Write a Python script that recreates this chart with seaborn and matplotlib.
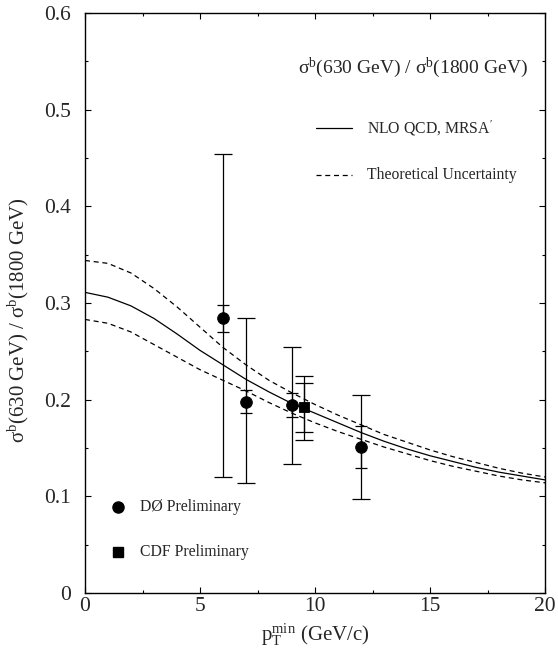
import numpy as np
import pandas as pd
import matplotlib
matplotlib.use("Agg")
import matplotlib.pyplot as plt
from matplotlib.ticker import MultipleLocator
import seaborn as sns

# ---- data ----
pt = [0, 1, 2, 3, 4, 5, 6, 7, 8, 9, 10, 11, 12, 13, 14, 15, 16, 17, 18, 19, 20]
nlo_central = [0.311, 0.306, 0.297, 0.284, 0.268, 0.251, 0.236, 0.221, 0.208, 0.196,
               0.186, 0.176, 0.166, 0.157, 0.149, 0.142, 0.136, 0.130, 0.125, 0.121, 0.117]
nlo_upper = [0.344, 0.341, 0.331, 0.315, 0.296, 0.275, 0.254, 0.236, 0.220, 0.207,
             0.195, 0.184, 0.174, 0.164, 0.156, 0.148, 0.141, 0.135, 0.129, 0.124, 0.120]
nlo_lower = [0.283, 0.279, 0.270, 0.257, 0.244, 0.231, 0.220, 0.209, 0.197, 0.186,
             0.176, 0.167, 0.159, 0.151, 0.144, 0.137, 0.131, 0.126, 0.121, 0.117, 0.114]

d0_x = [6, 7, 9, 12]
d0_y = [0.284, 0.198, 0.195, 0.151]
d0_stat_lo = [0.270, 0.186, 0.182, 0.129]
d0_stat_hi = [0.298, 0.210, 0.2065, 0.173]
d0_tot_lo = [0.120, 0.1135, 0.133, 0.097]
d0_tot_hi = [0.454, 0.284, 0.255, 0.205]

cdf_x = [9.5]
cdf_y = [0.192]
cdf_stat_lo = [0.167]
cdf_stat_hi = [0.217]
cdf_tot_lo = [0.158]
cdf_tot_hi = [0.225]

# ---- style ----
sns.set_theme(style="ticks")
plt.rcParams["font.family"] = ["Liberation Serif", "DejaVu Serif"]
plt.rcParams["mathtext.fontset"] = "custom"
plt.rcParams["mathtext.rm"] = "Liberation Serif"
plt.rcParams["mathtext.it"] = "Liberation Serif:italic"
plt.rcParams["mathtext.bf"] = "Liberation Serif:bold"

fig = plt.figure(figsize=(5.58, 6.6), dpi=100)
ax = fig.add_axes([85/558, 1-593/660, 460/558, 580/660])

df = pd.DataFrame({"pt": pt, "c": nlo_central, "u": nlo_upper, "l": nlo_lower})
sns.lineplot(data=df, x="pt", y="c", ax=ax, color="black", lw=0.9)
sns.lineplot(data=df, x="pt", y="u", ax=ax, color="black", lw=0.9, linestyle=(0, (4, 3)))
sns.lineplot(data=df, x="pt", y="l", ax=ax, color="black", lw=0.9, linestyle=(0, (4, 3)))

def draw_err(xs, ys, lo, hi, cap):
    ys = np.array(ys); lo = np.array(lo); hi = np.array(hi)
    ax.errorbar(xs, ys, yerr=[ys - lo, hi - ys], fmt="none", ecolor="black",
                elinewidth=0.9, capsize=cap, capthick=0.9)

draw_err(d0_x, d0_y, d0_tot_lo, d0_tot_hi, 6.5)
draw_err(d0_x, d0_y, d0_stat_lo, d0_stat_hi, 4)
draw_err(cdf_x, cdf_y, cdf_tot_lo, cdf_tot_hi, 6.5)
draw_err(cdf_x, cdf_y, cdf_stat_lo, cdf_stat_hi, 6.5)

sns.scatterplot(x=d0_x, y=d0_y, ax=ax, marker="o", s=70, color="black",
                edgecolor="black", zorder=5)
sns.scatterplot(x=cdf_x, y=cdf_y, ax=ax, marker="s", s=60, color="black",
                edgecolor="black", zorder=5)

ax.set_xlim(0, 20)
ax.set_ylim(0, 0.6)
ax.xaxis.set_minor_locator(MultipleLocator(2.5))
ax.yaxis.set_minor_locator(MultipleLocator(0.05))
ax.set_xticks([0, 5, 10, 15, 20])
ax.set_xticklabels(["0", "5", "10", "15", "20"])
ax.set_yticks([0, 0.1, 0.2, 0.3, 0.4, 0.5, 0.6])
ax.set_yticklabels(["0", "0.1", "0.2", "0.3", "0.4", "0.5", "0.6"])
ax.tick_params(which="both", direction="in", top=True, right=True, color="black")
ax.tick_params(which="major", length=4, width=0.8, labelsize=15.5)
ax.tick_params(axis="x", which="major", pad=3)
ax.tick_params(axis="y", which="major", pad=10)
ax.tick_params(which="minor", length=2, width=0.8)
for sp in ax.spines.values():
    sp.set_color("black")
    sp.set_linewidth(1.0)

ax.set_xlabel(r"$\mathrm{p_T^{min}}$ (GeV/c)", fontsize=15)
ax.set_ylabel(r"$\mathrm{\sigma^b}$(630 GeV) / $\mathrm{\sigma^b}$(1800 GeV)", fontsize=15)
ax.xaxis.set_label_coords((315 - 85) / 460, (593 - 621) / 580)
ax.yaxis.set_label_coords((31 - 85) / 460, (593 - 320) / 580)

# in-plot title
ax.text((413 - 85) / 460, (593 - 68) / 580,
        r"$\mathrm{\sigma^b}$(630 GeV) / $\mathrm{\sigma^b}$(1800 GeV)",
        transform=ax.transAxes, ha="center", va="center", fontsize=14)

# theory legend (axes coords)
def px(x): return (x - 85) / 460
def py(y): return (593 - y) / 580
ax.plot([px(316), px(352)], [py(128), py(128)], transform=ax.transAxes, color="black", lw=0.9)
ax.text(px(367), py(128), r"NLO QCD, MRSA$^{\prime}$", transform=ax.transAxes,
        ha="left", va="center", fontsize=11.3)
ax.plot([px(316), px(352)], [py(175), py(175)], transform=ax.transAxes, color="black",
        lw=0.9, linestyle=(0, (4, 3)))
ax.text(px(367), py(175), "Theoretical Uncertainty", transform=ax.transAxes,
        ha="left", va="center", fontsize=11.3)

# data legend
ax.plot([px(118)], [py(507)], transform=ax.transAxes, marker="o", ms=8, color="black")
ax.text(px(140), py(507), "D\u00d8 Preliminary", transform=ax.transAxes,
        ha="left", va="center", fontsize=11.3)
ax.plot([px(118)], [py(552)], transform=ax.transAxes, marker="s", ms=7, color="black")
ax.text(px(140), py(552), "CDF Preliminary", transform=ax.transAxes,
        ha="left", va="center", fontsize=11.3)

fig.savefig("out.png", dpi=100)
